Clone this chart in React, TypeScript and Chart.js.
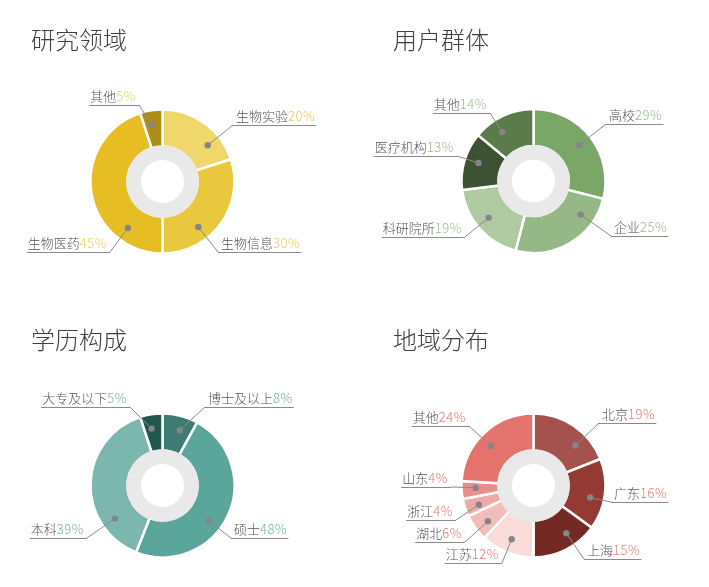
import React, { useEffect, useRef } from 'react';
import { Chart, registerables } from 'chart.js';

Chart.register(...registerables);

// ---------- data ----------
const researchLabels = ['生物实验', '生物信息', '生物医药', '其他'];
const researchValues = [20, 30, 45, 5];

const userLabels = ['高校', '企业', '科研院所', '医疗机构', '其他'];
const userValues = [29, 25, 19, 13, 14];

const eduLabels = ['博士及以上', '硕士', '本科', '大专及以下'];
const eduValues = [8, 48, 39, 5];

const regionLabels = ['北京', '广东', '上海', '江苏', '湖北', '浙江', '山东', '其他'];
const regionValues = [19, 16, 15, 12, 6, 4, 4, 24];

const panelTitles = ['研究领域', '用户群体', '学历构成', '地域分布'];

// ---------- styles ----------
const researchColors = ['#F0D76B', '#EAC83E', '#E6BD22', '#AE8C17'];
const userColors = ['#7AA668', '#96B886', '#AFC9A1', '#3C5233', '#5B7B4B'];
const eduColors = ['#3D7B73', '#5AA69B', '#7CB7AF', '#23564E'];
const regionColors = ['#A5514D', '#953A33', '#742A24', '#FADDDB', '#F2BCBA', '#EEAAA6', '#E98F8A', '#E3736C'];
const pctColors = ['#E8CB5E', '#98BA89', '#72AFA7', '#E07A73'];

// label elbow anchors (relative to doughnut centre)
const researchAnchors = [[70.5, -56.5], [55.5, 70.5], [-52.5, 70.5], [-23.5, -76.5]];
const userAnchors = [[72.5, -57], [77.5, 55], [-68.5, 56], [-76.5, -25], [-43.5, -68]];
const eduAnchors = [[42.5, -78.5], [68.5, 52.5], [-75.5, 52.5], [-32.5, -78.5]];
const regionAnchors = [[65.5, -62.5], [77.5, 16.5], [50.5, 73.5], [-31.5, 77.5], [-68.5, 56.5], [-77.5, 34.5], [-82.5, 1.5], [-64.5, -59.5]];

const FONT = "'Noto Sans CJK SC', 'Noto Sans', sans-serif";
const OUTER_R = 72;
const INNER_R = 35;
const HOLE_R = 21.5;

type PanelDef = {
  title: string;
  labels: string[];
  values: number[];
  colors: string[];
  pct: string;
  anchors: number[][];
  left: number;
  top: number;
  width: number;
  height: number;
  cx: number;
  cy: number;
  titleX: number;
  titleY: number;
};

const panels: PanelDef[] = [
  { title: panelTitles[0], labels: researchLabels, values: researchValues, colors: researchColors, pct: pctColors[0], anchors: researchAnchors,
    left: 0, top: 0, width: 354, height: 300, cx: 162.5, cy: 181.5, titleX: 31, titleY: 40 },
  { title: panelTitles[1], labels: userLabels, values: userValues, colors: userColors, pct: pctColors[1], anchors: userAnchors,
    left: 354, top: 0, width: 355, height: 300, cx: 179.5, cy: 181, titleX: 39, titleY: 40 },
  { title: panelTitles[2], labels: eduLabels, values: eduValues, colors: eduColors, pct: pctColors[2], anchors: eduAnchors,
    left: 0, top: 300, width: 354, height: 287, cx: 162.5, cy: 185.5, titleX: 31, titleY: 40 },
  { title: panelTitles[3], labels: regionLabels, values: regionValues, colors: regionColors, pct: pctColors[3], anchors: regionAnchors,
    left: 354, top: 300, width: 355, height: 287, cx: 179.5, cy: 185.5, titleX: 39, titleY: 40 },
];

function makeDecorPlugin(p: PanelDef) {
  return {
    id: 'decor',
    afterDatasetsDraw(chart: any) {
      const ctx = chart.ctx as CanvasRenderingContext2D;
      const meta = chart.getDatasetMeta(0);
      const a0 = meta.data[0];
      const { x, y, innerRadius } = a0.getProps(['x', 'y', 'innerRadius'], true);
      ctx.save();
      ctx.beginPath();
      ctx.arc(x, y, innerRadius + 1.3, 0, Math.PI * 2);
      ctx.arc(x, y, HOLE_R, 0, Math.PI * 2, true);
      ctx.fillStyle = '#E9E9E9';
      ctx.fill();
      ctx.restore();
    },
    afterDraw(chart: any) {
      const ctx = chart.ctx as CanvasRenderingContext2D;
      const meta = chart.getDatasetMeta(0);
      ctx.save();
      // title
      ctx.font = `300 24px ${FONT}`;
      ctx.fillStyle = '#3f3f3f';
      ctx.textBaseline = 'alphabetic';
      ctx.textAlign = 'left';
      ctx.fillText(p.title, p.titleX, p.titleY + 9);

      meta.data.forEach((arc: any, i: number) => {
        const { x, y, startAngle, endAngle, innerRadius, outerRadius } = arc.getProps(
          ['x', 'y', 'startAngle', 'endAngle', 'innerRadius', 'outerRadius'], true);
        const [dx, dy] = p.anchors[i];
        const ex = x + dx;
        const ey = y + dy;
        // dot angle: toward elbow, clamped inside the slice
        let a = Math.atan2(dy, dx);
        while (a < startAngle) a += Math.PI * 2;
        while (a > startAngle + Math.PI * 2) a -= Math.PI * 2;
        const width = endAngle - startAngle;
        const pad = Math.min(0.4 * width, (12 * Math.PI) / 180);
        if (a > endAngle) {
          const dEnd = a - endAngle;
          const dStart = startAngle + Math.PI * 2 - a;
          a = dEnd < dStart ? endAngle - pad : startAngle + pad;
        }
        a = Math.max(startAngle + pad, Math.min(endAngle - pad, a));
        const r = innerRadius + 0.62 * (outerRadius - innerRadius);
        const px = x + Math.cos(a) * r;
        const py = y + Math.sin(a) * r;

        const name = p.labels[i];
        const pctText = `${p.values[i]}%`;
        ctx.font = `300 13px ${FONT}`;
        (ctx as any).letterSpacing = '0px';
        const wName = ctx.measureText(name).width;
        (ctx as any).letterSpacing = '0.6px';
        const wPct = ctx.measureText(pctText).width;
        (ctx as any).letterSpacing = '0px';
        const total = wName + wPct;
        const right = dx > 0;
        const textX = right ? ex + 3 : ex - 3 - total;
        const lineStart = right ? ex : textX - 1;
        const lineEnd = right ? textX + total + 1 : ex;

        ctx.strokeStyle = '#8a8a8a';
        ctx.lineWidth = 1;
        ctx.beginPath();
        ctx.moveTo(px, py);
        ctx.lineTo(ex, ey);
        ctx.stroke();
        ctx.beginPath();
        ctx.moveTo(lineStart, ey + 0.5);
        ctx.lineTo(lineEnd, ey + 0.5);
        ctx.stroke();

        ctx.fillStyle = '#84848a';
        ctx.beginPath();
        ctx.arc(px, py, 3.2, 0, Math.PI * 2);
        ctx.fill();

        ctx.textBaseline = 'alphabetic';
        ctx.fillStyle = '#555555';
        ctx.fillText(name, textX, ey - 4);
        (ctx as any).letterSpacing = '0.6px';
        ctx.fillStyle = p.pct;
        ctx.fillText(pctText, textX + wName, ey - 4);
        (ctx as any).letterSpacing = '0px';
      });
      ctx.restore();
    },
  };
}

function Panel({ p }: { p: PanelDef }) {
  const ref = useRef<HTMLCanvasElement | null>(null);
  useEffect(() => {
    if (!ref.current) return;
    const R = OUTER_R + 1.25;
    const chart = new Chart(ref.current, {
      type: 'doughnut',
      data: {
        labels: p.labels,
        datasets: [{
          data: p.values,
          backgroundColor: p.colors,
          borderColor: '#ffffff',
          borderWidth: 2.5,
          hoverOffset: 0,
          offset: 0,
        }],
      },
      options: {
        responsive: false,
        animation: false,
        devicePixelRatio: 1,
        radius: OUTER_R,
        cutout: `${(INNER_R / OUTER_R) * 100}%`,
        layout: {
          padding: {
            left: p.cx - R,
            right: p.width - p.cx - R,
            top: p.cy - R,
            bottom: p.height - p.cy - R,
          },
        },
        plugins: {
          legend: { display: false },
          tooltip: { enabled: false },
          title: { display: false },
        },
        events: [],
      } as any,
      plugins: [makeDecorPlugin(p)],
    });
    return () => chart.destroy();
  }, [p]);
  return (
    <canvas
      ref={ref}
      width={p.width}
      height={p.height}
      style={{ position: 'absolute', left: p.left, top: p.top, width: p.width, height: p.height, display: 'block' }}
    />
  );
}

export default function App() {
  return (
    <div style={{ position: 'fixed', left: 0, top: 0, width: 709, height: 587, background: '#ffffff', overflow: 'hidden' }}>
      {panels.map((p, i) => (
        <Panel key={i} p={p} />
      ))}
    </div>
  );
}
